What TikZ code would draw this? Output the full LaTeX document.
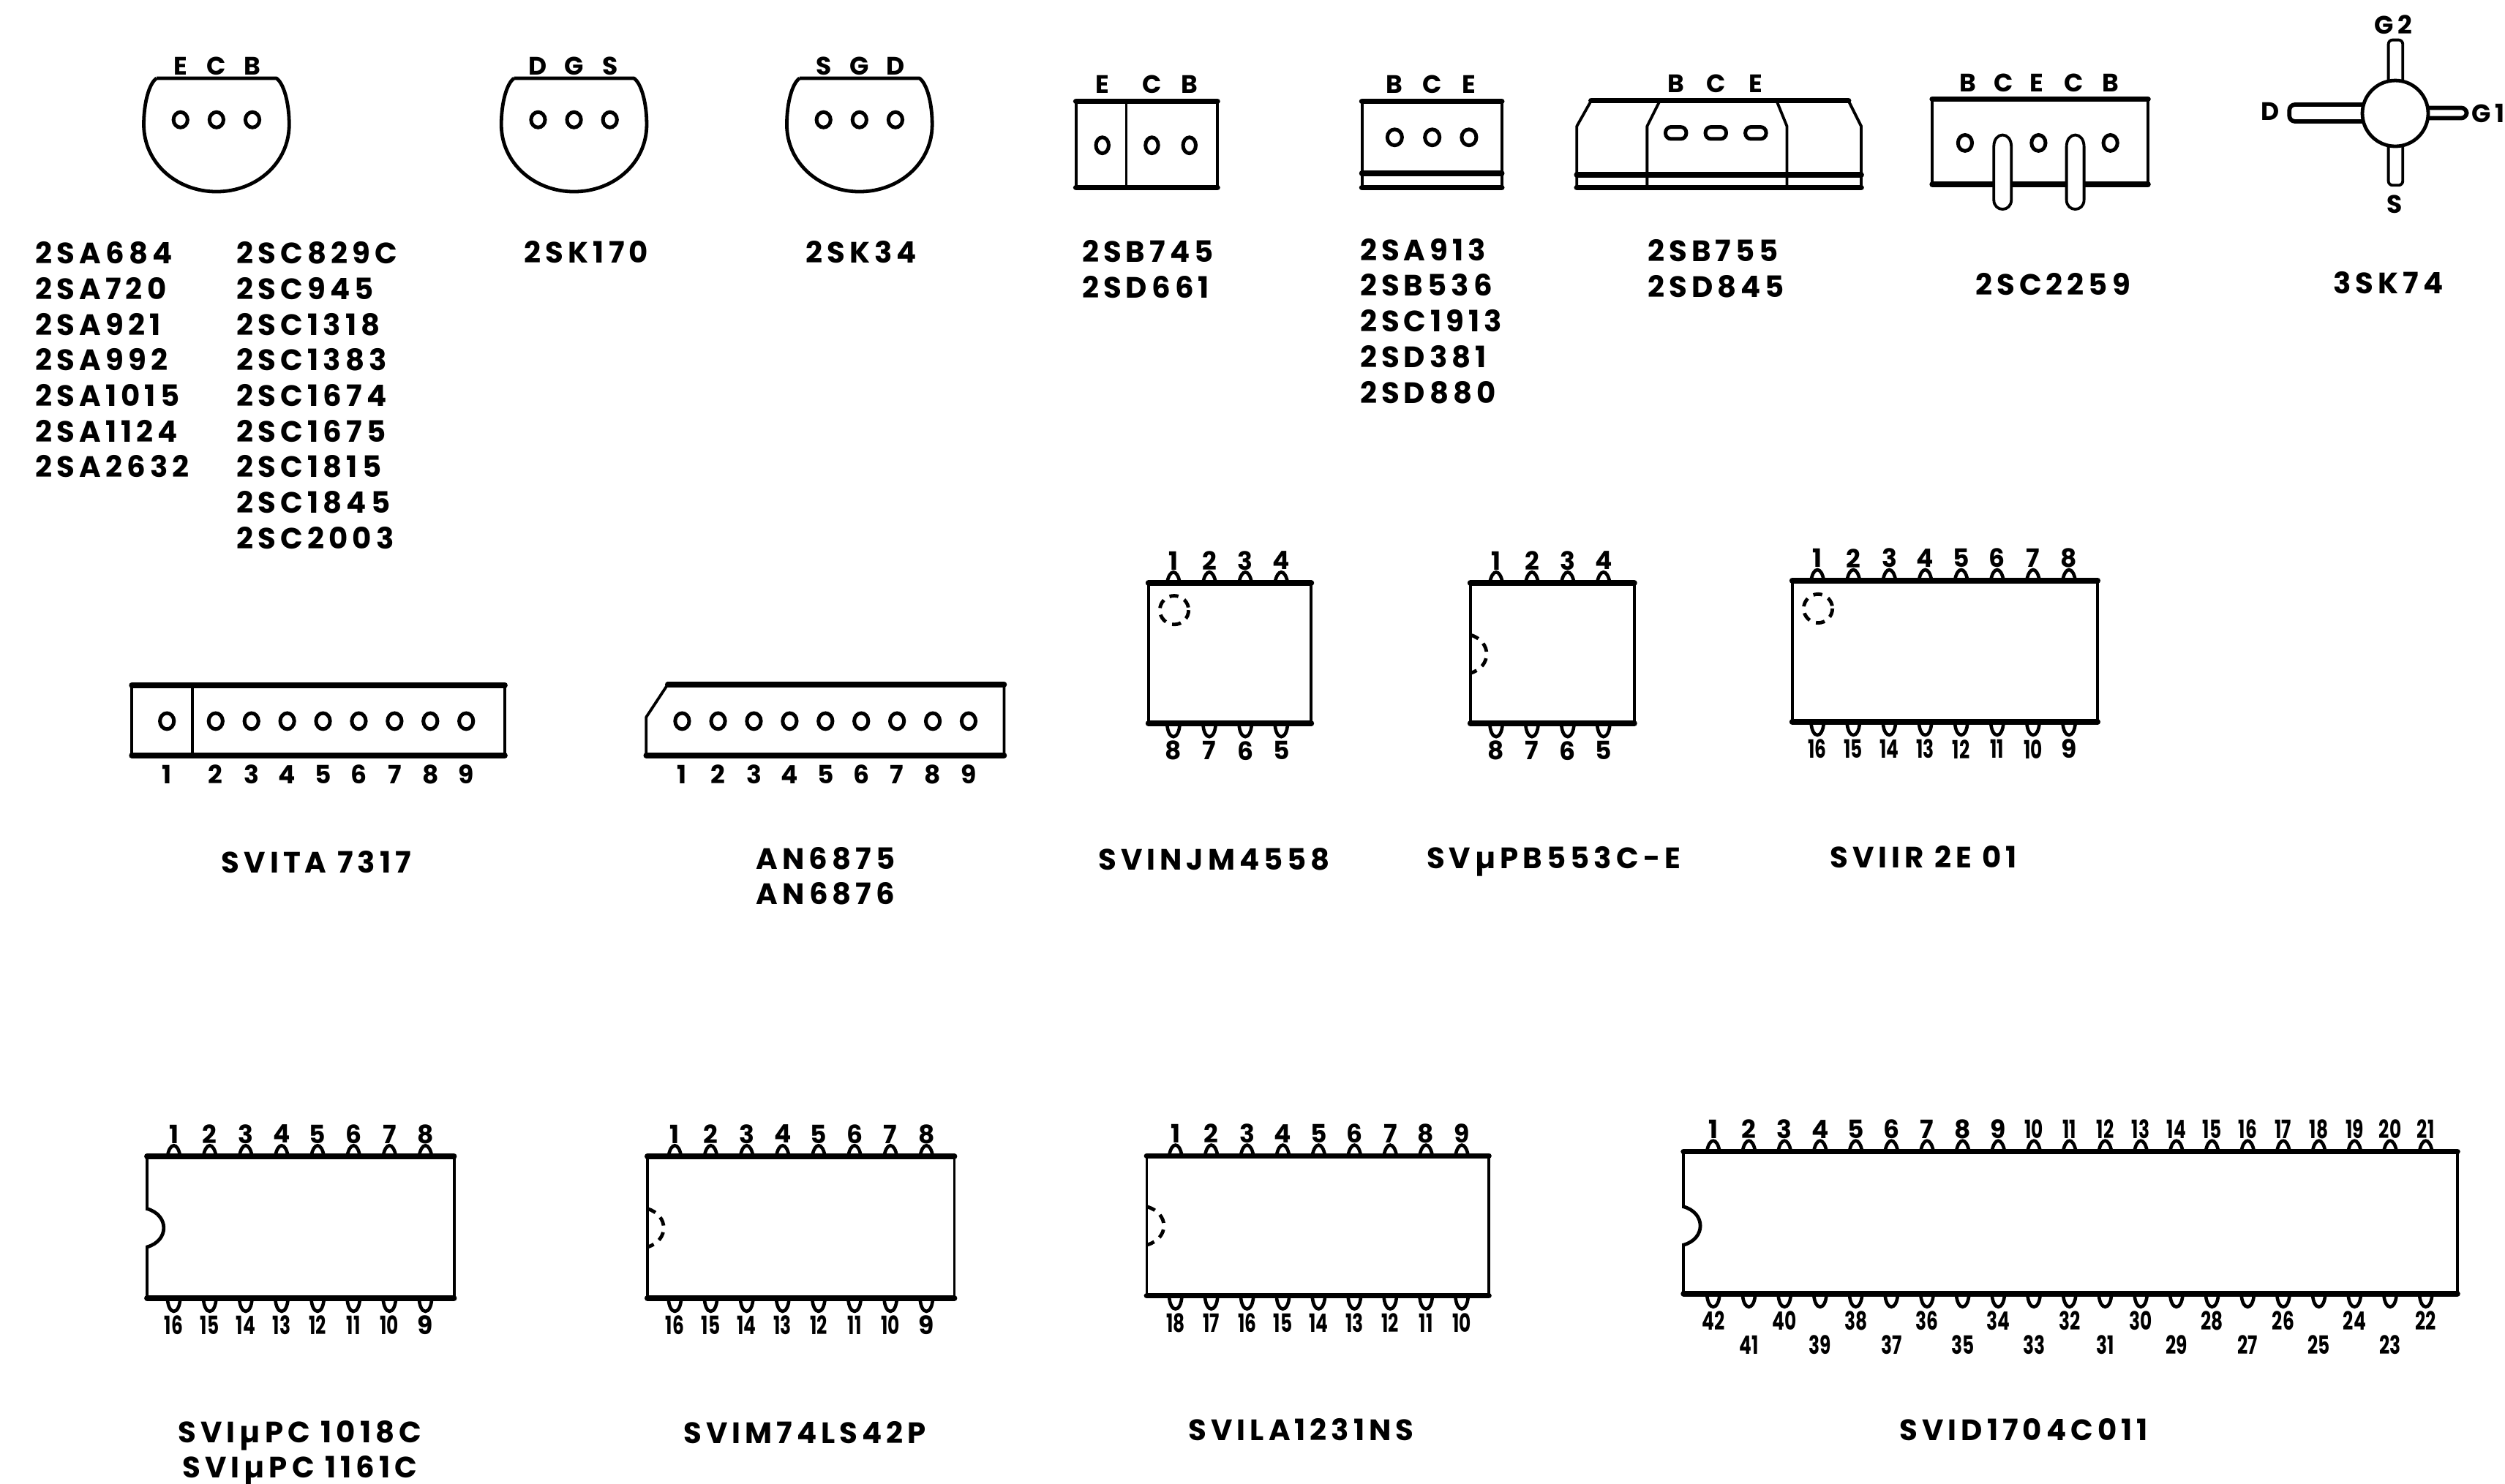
\documentclass[tikz,border=0pt]{standalone}
\usepackage{fontspec}
\setmainfont{Poppins}[LetterSpace=15]
\newfontfamily\narrowfont[FakeStretch=0.72]{Poppins}
\begin{document}
\begin{tikzpicture}[%
    x=.02cm, y=.02cm, yscale=-1,
    outline/.style={line width=1pt, line join=round},
    heavy/.style={line width=2pt, line cap=round},
    hole/.style={line width=1.3pt},
    dashnotch/.style={line width=1.25pt, dash pattern=on 3.2pt off 2.4pt},
    pinarch/.style={line width=1.2pt},
    pinlabel/.style={inner sep=0pt, font=\bfseries\fontsize{9}{10}\selectfont},
    partname/.style={inner sep=0pt, align=center, font=\bfseries\fontsize{10.5}{12.7}\selectfont},
    partlist/.style={inner sep=0pt, anchor=north west, align=left, font=\bfseries\fontsize{10.5}{12.7}\selectfont}
  ]
    \useasboundingbox (0,0) rectangle (1568,929);

    % round transistors
    \foreach \nm/\c/\la/\lb/\lc in {ta/135.5/E/C/B, tb/359.3/D/G/S, tc/538/S/G/D} {
      \draw[outline, line width=1.25pt] (\c-37.5,49) -- (\c+37.5,49)
        .. controls (\c+42,52) and (\c+45.5,64) .. (\c+45.5,78)
        .. controls (\c+45.5,102) and (\c+25,120) .. (\c,120)
        .. controls (\c-25,120) and (\c-45.5,102) .. (\c-45.5,78)
        .. controls (\c-45.5,64) and (\c-42,52) .. (\c-37.5,49);
      \foreach \k/\t in {1/\la, 2/\lb, 3/\lc} {
        \draw[hole] ({\c+22.5*(\k-2)},75) circle [x radius=4.4, y radius=4.8];
        \node[pinlabel] (\nm\k) at ({\c+22.5*(\k-2)},41.5) {\t};
      }
    }

    % flat packages
    \draw[outline] (673.5,63.5) rectangle (762,117.5);
    \draw[heavy] (673.5,63.5) -- (762,63.5) (673.5,117.5) -- (762,117.5);
    \draw[outline] (705,63.5) -- (705,117.5);
    \foreach \x/\t/\k in {690/E/1, 721/C/2, 744.5/B/3} {
      \draw[hole] (\x,91) circle [x radius=4, y radius=5];
      \node[pinlabel] (fa\k) at (\x,53) {\t};
    }

    \draw[outline] (852.5,63.5) rectangle (940,117.5);
    \draw[heavy] (852.5,63.5) -- (940,63.5) (852.5,108.5) -- (940,108.5) (852.5,117.5) -- (940,117.5);
    \foreach \x/\t/\k in {873/B/1, 896.5/C/2, 919.5/E/3} {
      \draw[hole] (\x,86) circle [x radius=4.6, y radius=5];
      \node[pinlabel] (fb\k) at (\x,53) {\t};
    }

    \draw[outline] (996,63) -- (987,79) -- (987,117.5) -- (1165,117.5) -- (1165,79) -- (1157,63);
    \draw[outline] (1039,63) -- (1031,79) -- (1031,117.5) (1112,63) -- (1118.5,79) -- (1118.5,117.5);
    \draw[heavy] (996,63) -- (1157,63) (987,109.5) -- (1165,109.5) (987,117.5) -- (1165,117.5);
    \foreach \x/\t/\k in {1049/B/1, 1074/C/2, 1099/E/3} {
      \draw[hole, rounded corners=2pt] (\x-6.5,79.5) rectangle (\x+6.5,87);
      \node[pinlabel] (fc\k) at (\x,52.5) {\t};
    }

    \draw[outline] (1209.5,62) rectangle (1344.5,115.5);
    \draw[heavy] (1209.5,62) -- (1344.5,62) (1209.5,115.5) -- (1344.5,115.5);
    \foreach \x in {1230, 1276, 1321} {
      \draw[hole] (\x,89.5) circle [x radius=4.4, y radius=5];
    }
    \foreach \x in {1253.5, 1299} {
      \draw[outline, fill=white] (\x-5.5,125) -- (\x-5.5,92)
        .. controls (\x-5.5,82) and (\x+5.5,82) .. (\x+5.5,92) -- (\x+5.5,125)
        .. controls (\x+5.5,133) and (\x-5.5,133) .. (\x-5.5,125);
    }
    \foreach \x/\t/\k in {1232/B/1, 1254/C/2, 1275/E/3, 1298/C/4, 1321/B/5} {
      \node[pinlabel] (fd\k) at (\x,52) {\t};
    }

    % four lead package
    \draw[outline, line width=1.5pt, rounded corners=2pt] (1479,65.5) -- (1433,65.5) -- (1433,76) -- (1479,76);
    \draw[outline, rounded corners=1.5pt] (1495,52) -- (1495,25) -- (1504,25) -- (1504,52);
    \draw[outline, rounded corners=1.5pt] (1495,90) -- (1495,116) -- (1504,116) -- (1504,90);
    \draw[outline, line width=1.5pt, rounded corners=2pt] (1519,67.5) -- (1544,67.5) -- (1544,74) -- (1519,74);
    \draw[outline, line width=1.25pt, fill=white] (1499.3,71) circle [radius=20.6];
    \node[pinlabel] (cg2) at (1498,15.5) {G2};
    \node[pinlabel] (cd) at (1421,70) {D};
    \node[pinlabel] (cg1) at (1557.5,71) {G1};
    \node[pinlabel] (cs) at (1499,128) {S};

    % single row packages
    \draw[outline] (82.5,429) rectangle (316,473);
    \draw[heavy] (82.5,429) -- (316,429) (82.5,473) -- (316,473);
    \draw[outline] (120.5,429) -- (120.5,473);
    \draw[outline] (404.5,473) -- (404.5,449) -- (418,428.5) -- (628.5,428.5) -- (628.5,473) -- cycle;
    \draw[heavy] (418,428.5) -- (628.5,428.5) (404.5,473) -- (628.5,473);
    \foreach \nm/\xa/\xb/\d in {sa/104.5/135/22.4, sb/427/449.5/22.4} {
      \foreach \n in {1,...,9} {
        \pgfmathsetmacro\px{\n==1 ? \xa : \xb+\d*(\n-2)}
        \draw[hole] (\px,451.5) circle [x radius=4.4, y radius=5];
        \node[pinlabel] (\nm\n) at (\px,485) {\n};
      }
    }

    % dual row packages
    \foreach \nm/\l/\r/\t/\b/\fx/\d/\np in {%
        da/718.8/820.8/365/453/734.5/22.5/4,
        db/920.3/1023/365/453/936.5/22.4/4,
        dc/1121.8/1313/363.5/452/1137.6/22.5/8,
        dd/92/284.2/724/812.8/108.8/22.5/8,
        de/405.2/597.4/724/812.8/422.4/22.5/8,
        df/717.8/931.9/723.7/811.3/735.8/22.4/9,
        dg/1053.8/1538.2/721/810/1072.4/22.3/21} {
      \draw[outline] (\l,\t) rectangle (\r,\b);
      \draw[heavy] (\l,\t) -- (\r,\t) (\l,\b) -- (\r,\b);
      \foreach \n in {1,...,\np} {
        \pgfmathsetmacro\px{\fx+\d*(\n-1)}
        \pgfmathtruncatemacro\lab{2*\np+1-\n}
        \pgfmathsetmacro\dy{(\np>20 && isodd(\lab)) ? 15 : 0}
        \draw[pinarch] (\px-4,\t) .. controls (\px-2.5,\t-9) and (\px+2.5,\t-9) .. (\px+4,\t);
        \draw[pinarch] (\px-4,\b) .. controls (\px-3.5,\b+11) and (\px+3.5,\b+11) .. (\px+4,\b);
        \node[pinlabel] (\nm t\n) at (\px,\t-14) {\ifnum\n>9 \narrowfont\bfseries\fi\n};
        \node[pinlabel] (\nm b\n) at (\px,\b+17+\dy) {\ifnum\lab>9 \narrowfont\bfseries\fi\lab};
      }
    }

    % index marks
    \draw[dashnotch] (735,382) circle [radius=9];
    \draw[dashnotch] (1138,381) circle [radius=9];
    \foreach \x/\y/\w in {920.3/409.5/10.5, 405.2/768.8/10.5, 717.8/767.5/11} {
      \draw[dashnotch] (\x,\y-12) .. controls (\x+\w*1.3,\y-8) and (\x+\w*1.3,\y+8) .. (\x,\y+12);
    }
    \foreach \x/\y in {92/768.8, 1053.8/767.5} {
      \draw[white, line width=1.8pt] (\x,\y-11) -- (\x,\y+11);
      \draw[outline, line width=1.25pt] (\x,\y-12) .. controls (\x+14,\y-8) and (\x+14,\y+8) .. (\x,\y+12);
    }

    % part numbers
    \node[partlist] (lista) at (22,151) {2SA684\\2SA720\\2SA921\\2SA992\\2SA1015\\2SA1124\\2SA2632};
    \node[partlist] (listb) at (148,151) {2SC829C\\2SC945\\2SC1318\\2SC1383\\2SC1674\\2SC1675\\2SC1815\\2SC1845\\2SC2003};
    \node[partname] (listc) at (367,158) {2SK170};
    \node[partname] (listd) at (539,158) {2SK34};
    \node[partlist] (liste) at (677,150) {2SB745\\2SD661};
    \node[partlist] (listf) at (851,149) {2SA913\\2SB536\\2SC1913\\2SD381\\2SD880};
    \node[partlist] (listg) at (1031,149.5) {2SB755\\2SD845};
    \node[partname] (listh) at (1285,178) {2SC2259};
    \node[partname] (listi) at (1495,177) {3SK74};
    \node[partname] (namea) at (198,539.5) {SVITA 7317};
    \node[partname, anchor=north] (nameb) at (516.8,530) {AN6875\\AN6876};
    \node[partname] (namec) at (760,538) {SVINJM4558};
    \node[partname] (named) at (972.5,539.5) {SVµPB553C-E};
    \node[partname] (namee) at (1204,536.5) {SVIIR 2E 01};
    \node[partname, anchor=north] (namef) at (187.7,889) {SVIµPC 1018C\\SVIµPC 1161C};
    \node[partname] (nameg) at (503.8,897) {SVIM74LS42P};
    \node[partname] (nameh) at (814.5,895) {SVILA1231NS};
    \node[partname] (namei) at (1266.8,895) {SVID1704C011};
  \end{tikzpicture}
\end{document}
